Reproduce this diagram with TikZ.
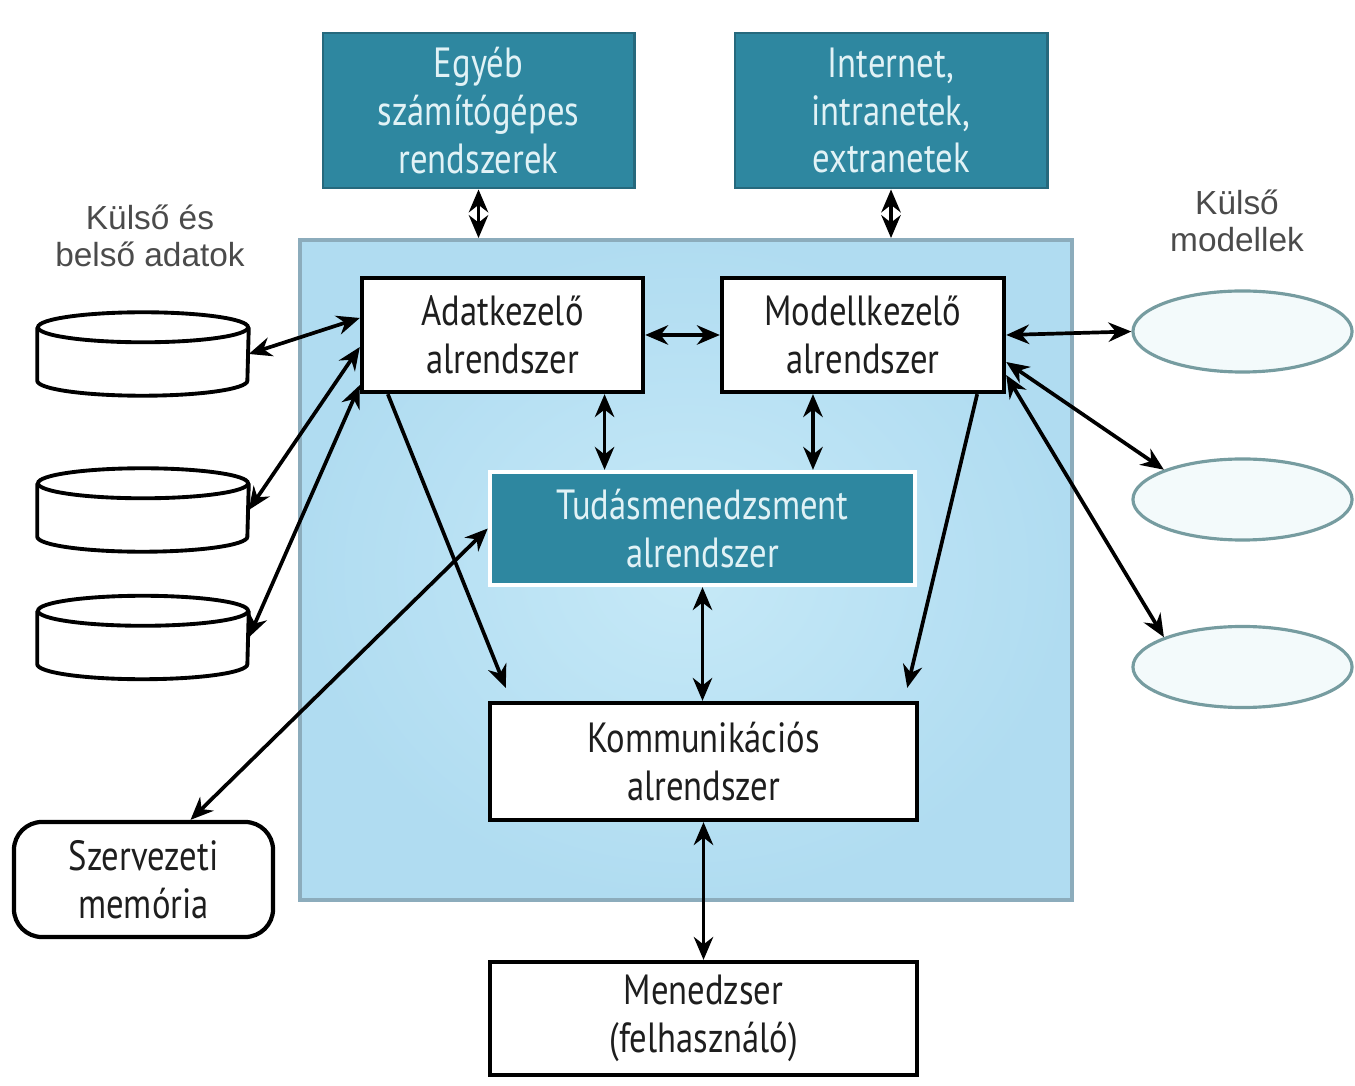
\documentclass[tikz,border=0pt]{standalone}
\usepackage{fontspec}
\setmainfont{PT Sans}[FakeStretch=0.82]
\newfontfamily\labelfont{Liberation Sans}
\usetikzlibrary{arrows.meta,shapes.geometric,calc,positioning}
\definecolor{tealbox}{RGB}{46,135,160}
\definecolor{tealedge}{RGB}{38,105,125}
\definecolor{teallight}{RGB}{225,242,246}
\definecolor{panelin}{RGB}{198,233,247}
\definecolor{panelout}{RGB}{176,220,241}
\definecolor{paneledge}{RGB}{140,172,188}
\definecolor{ovaledge}{RGB}{118,156,160}
\definecolor{ovalfill}{RGB}{243,250,251}
\definecolor{labelgray}{RGB}{75,75,75}
\definecolor{boxtext}{RGB}{30,30,30}
\tikzset{
  boxfont/.style={font=\fontsize{12}{13.6}\selectfont},
  subsys/.style={boxfont, draw=black, line width=1.2pt, fill=white, text=boxtext,
    align=center, inner sep=0pt},
  tealsys/.style={boxfont, fill=tealbox, draw=tealedge, line width=0.8pt,
    text=teallight, align=center, inner sep=0pt},
  cylbox/.style={minimum width=2.1cm, minimum height=0.82cm, inner sep=0pt},
  cylline/.style={draw=black, line width=1.1pt},
  extmodel/.style={ellipse, draw=ovaledge, line width=0.9pt, fill=ovalfill,
    minimum width=2.19cm, minimum height=0.81cm},
  sidelabel/.style={font=\labelfont\fontsize{9.5}{10.6}\selectfont, text=labelgray,
    align=center},
  link/.style={line width=1.05pt, {Stealth[length=6.5pt,width=5.5pt]}-{Stealth[length=6.5pt,width=5.5pt]}},
  onelink/.style={line width=1.05pt, -{Stealth[length=6.5pt,width=5.5pt]}},
}
\begin{document}
\begin{tikzpicture}[x=0.01cm,y=-0.01cm]
    % Frame of the picture (pixel grid of the reference)
    \useasboundingbox (0,0) rectangle (1355,1086);
    % Light blue panel behind the subsystems
    \node[draw=paneledge, line width=1pt, inner color=panelin, outer color=panelout,
      minimum width=7.72cm, minimum height=6.6cm] (panel) at (686,570) {};
    % Outside systems on top
    \node[tealsys, minimum width=3.11cm, minimum height=1.55cm] (egyeb) at (478.5,110.5)
      {Egyéb\\számítógépes\\rendszerek};
    \node[tealsys, minimum width=3.12cm, minimum height=1.55cm] (inet) at (891,110.5)
      {Internet,\\intranetek,\\extranetek};
    % Subsystems
    \node[subsys, minimum width=2.81cm, minimum height=1.14cm] (adat) at (502.5,335)
      {Adatkezelő\\alrendszer};
    \node[subsys, minimum width=2.82cm, minimum height=1.14cm] (modell) at (863,335)
      {Modellkezelő\\alrendszer};
    \node[tealsys, draw=white, line width=1.2pt, minimum width=4.25cm, minimum height=1.13cm]
      (tudas) at (702.5,528.5) {Tudásmenedzsment\\alrendszer};
    \node[subsys, minimum width=4.27cm, minimum height=1.17cm] (komm) at (703.5,761.5)
      {Kommunikációs\\alrendszer};
    \node[subsys, minimum width=4.27cm, minimum height=1.13cm] (menedzser) at (703.5,1018.5)
      {Menedzser\\(felhasználó)};
    \node[subsys, rounded corners=8pt, minimum width=2.59cm, minimum height=1.15cm]
      (memoria) at (143.5,879.5) {Szervezeti\\memória};
    % Data stores (drawn round an empty node) and outer models
    \foreach \n/\y in {1/354,2/510,3/637.5} {
        \node[cylbox] (cyl\n) at (143,\y) {};
        \draw[cylline] ([yshift=-0.15cm]cyl\n.north west) -- ([yshift=0.15cm]cyl\n.south west)
          arc[start angle=180, end angle=360, x radius=1.05cm, y radius=0.15cm]
          -- ([yshift=-0.15cm]cyl\n.north east);
        \draw[cylline] ([yshift=-0.15cm]cyl\n.north) ellipse[x radius=1.05cm, y radius=0.15cm];
    }
    \foreach \n/\y in {1/331.5,2/499.5,3/667} {
        \node[extmodel] (model\n) at (1242.5,\y) {};
    }
    \node[sidelabel] (adatlbl) at (150,236) {Külső és\\belső adatok};
    \node[sidelabel] (modlbl) at (1237,221) {Külső\\modellek};
    % Helper points for the vertical links
    \coordinate (a1) at ([xshift=1.02cm]adat.south);
    \coordinate (m1) at ([xshift=-0.5cm]modell.south);
    % Links
    \draw[link] (egyeb.south) -- (egyeb.south |- panel.north);
    \draw[link] (inet.south) -- (inet.south |- panel.north);
    \draw[link] (adat.east) -- (modell.west);
    \draw[link] (a1) -- (a1 |- tudas.north);
    \draw[link] (m1) -- (m1 |- tudas.north);
    \draw[link] (tudas.south) -- (tudas.south |- komm.north);
    \draw[link] (komm.south) -- (menedzser.north);
    \draw[link] ([yshift=0.17cm]adat.west) -- (cyl1.east);
    \draw[link] ([yshift=-0.12cm]adat.west) -- (cyl2.east);
    \draw[link] ([yshift=-0.5cm]adat.west) -- (cyl3.east);
    \draw[onelink] ([xshift=0.28cm]adat.south west) -- ([xshift=0.18cm,yshift=0.13cm]komm.north west);
    \draw[onelink] ([xshift=-0.29cm]modell.south east) -- ([xshift=-0.12cm,yshift=0.13cm]komm.north east);
    \draw[link] ([xshift=0.47cm]memoria.north) -- (tudas.west);
    \draw[link] (modell.east) -- (model1.west);
    \draw[link] ([yshift=-0.27cm]modell.east) -- (model2.north west);
    \draw[link] ([yshift=-0.4cm]modell.east) -- (model3.north west);
\end{tikzpicture}
\end{document}
